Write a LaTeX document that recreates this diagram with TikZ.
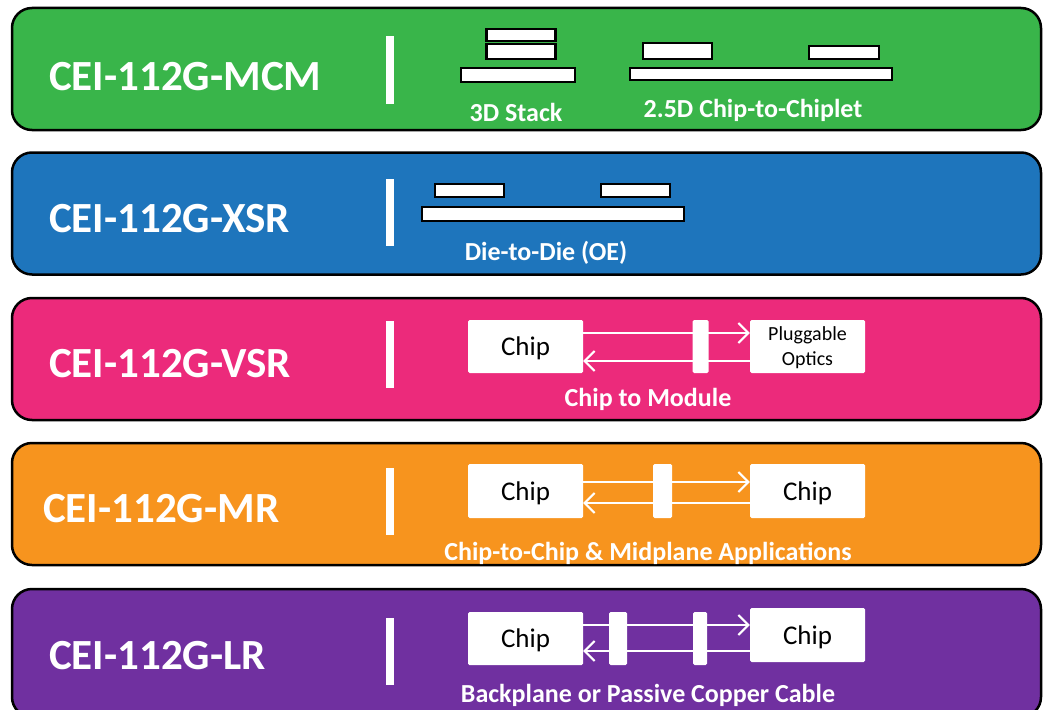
\documentclass[tikz,border=0pt]{standalone}
\usepackage{fontspec}
\setmainfont{Carlito}
\usetikzlibrary{arrows.meta,calc}
\definecolor{cgreen}{RGB}{57,181,74}
\definecolor{cblue}{RGB}{30,117,188}
\definecolor{cpink}{RGB}{236,42,123}
\definecolor{corange}{RGB}{247,148,30}
\definecolor{cpurple}{RGB}{112,48,160}
\begin{document}
\begin{tikzpicture}[x=1pt,y=-1pt,
  band/.style={draw=black,line width=2.5pt,rounded corners=20pt,minimum width=1029pt,minimum height=122pt,inner sep=0pt},
  title/.style={text=white,font=\bfseries\fontsize{43}{43}\selectfont,anchor=base west,inner sep=0pt},
  sub/.style={text=white,font=\bfseries\fontsize{26}{26}\selectfont,inner sep=0pt},
  vbar/.style={fill=white,minimum width=8pt,minimum height=67pt,inner sep=0pt},
  die/.style={draw=black,fill=white,line width=2.5pt,inner sep=0pt},
  wbox/.style={fill=white,inner sep=0pt,rounded corners=1.5pt,minimum width=115pt,text=black,text depth=0pt,font=\fontsize{27}{27}\selectfont},
  conn/.style={fill=white,inner sep=0pt,rounded corners=1.5pt},
  arr/.style={draw=white,line width=2pt,-{Straight Barb[length=10pt,width=20pt]}}
]
\useasboundingbox (0,0) rectangle (1043,709);
% bands
\node[band,fill=cgreen] (b1) at (526.5,69) {};
\node[band,fill=cblue] (b2) at (526.5,213.5) {};
\node[band,fill=cpink] (b3) at (526.5,359) {};
\node[band,fill=corange] (b4) at (526.5,504) {};
\node[band,fill=cpurple,minimum height=128pt] (b5) at (526.5,653) {};
% titles
\node[title] (t1) at (49,90) {CEI-112G-MCM};
\node[title] (t2) at (49,232) {CEI-112G-XSR};
\node[title] (t3) at (49,377) {CEI-112G-VSR};
\node[title] (t4) at (43,522) {CEI-112G-MR};
\node[title] (t5) at (49,669) {CEI-112G-LR};
% separators
\node[vbar] (v1) at (390,70) {};
\node[vbar] (v2) at (390,212.5) {};
\node[vbar] (v3) at (390,354.5) {};
\node[vbar] (v4) at (390,501.5) {};
\node[vbar] (v5) at (390,651) {};
% green: 3D stack
\node[die,minimum width=69pt,minimum height=12pt] (s1) at (521,35) {};
\node[die,minimum width=69pt,minimum height=15pt] (s2) at (521,51.5) {};
\node[die,minimum width=114pt,minimum height=14pt] (s3) at (518,75) {};
\node[sub] (l1) at (516,112) {3D Stack};
% green: 2.5D
\node[die,minimum width=69pt,minimum height=16pt] (c1) at (677.5,51) {};
\node[die,minimum width=70pt,minimum height=13pt] (c2) at (844,52.5) {};
\node[die,minimum width=262pt,minimum height=12pt] (c3) at (761,74) {};
\node[sub] (l2) at (753,110) {2.5D Chip-to-Chiplet};
% blue
\node[die,minimum width=69pt,minimum height=13pt] (d1) at (469.5,190.5) {};
\node[die,minimum width=69pt,minimum height=13pt] (d2) at (635.5,190.5) {};
\node[die,minimum width=262pt,minimum height=14pt] (d3) at (553,214) {};
\node[sub] (l3) at (546,253) {Die-to-Die (OE)};
% pink
\node[wbox,minimum height=53pt] (p1) at (525.5,346.5) {Chip};
\node[wbox,minimum height=53pt,font=\fontsize{20}{25}\selectfont,align=center] (p2) at (807.5,346.5) {Pluggable\\Optics};
\coordinate (pa) at ([yshift=13.5pt]p1.east);
\coordinate (pb) at ([yshift=-14.5pt]p2.west);
\draw[arr] (pa) -- (pa -| p2.west);
\draw[arr] (pb) -- (pb -| p1.east);
\node[conn,minimum width=16pt,minimum height=53pt] (pc) at (700.5,346.5) {};
\node[sub] (l4) at (648,399) {Chip to Module};
% orange
\node[wbox,minimum height=54pt] (o1) at (525.5,491) {Chip};
\node[wbox,minimum height=54pt] (o2) at (807.5,491) {Chip};
\coordinate (oa) at ([yshift=9pt]o1.east);
\coordinate (ob) at ([yshift=-12pt]o2.west);
\draw[arr] (oa) -- (oa -| o2.west);
\draw[arr] (ob) -- (ob -| o1.east);
\node[conn,minimum width=19pt,minimum height=54pt] (oc) at (662.5,491) {};
\node[sub] (l5) at (648,553) {Chip-to-Chip \& Midplane Applications};
% purple
\node[wbox,minimum height=53pt] (q1) at (525.5,638.5) {Chip};
\node[wbox,minimum height=54pt] (q2) at (807.5,635) {Chip};
\coordinate (qa) at ([yshift=13.5pt]q1.east);
\coordinate (qb) at ([yshift=-12.5pt]q1.east);
\draw[arr] (qa) -- (qa -| q2.west);
\draw[arr] (qb -| q2.west) -- (qb);
\node[conn,minimum width=18pt,minimum height=53pt] (qc1) at (618,638.5) {};
\node[conn,minimum width=14pt,minimum height=53pt] (qc2) at (700,638.5) {};
\node[sub] (l6) at (648,695) {Backplane or Passive Copper Cable};
\end{tikzpicture}
\end{document}
